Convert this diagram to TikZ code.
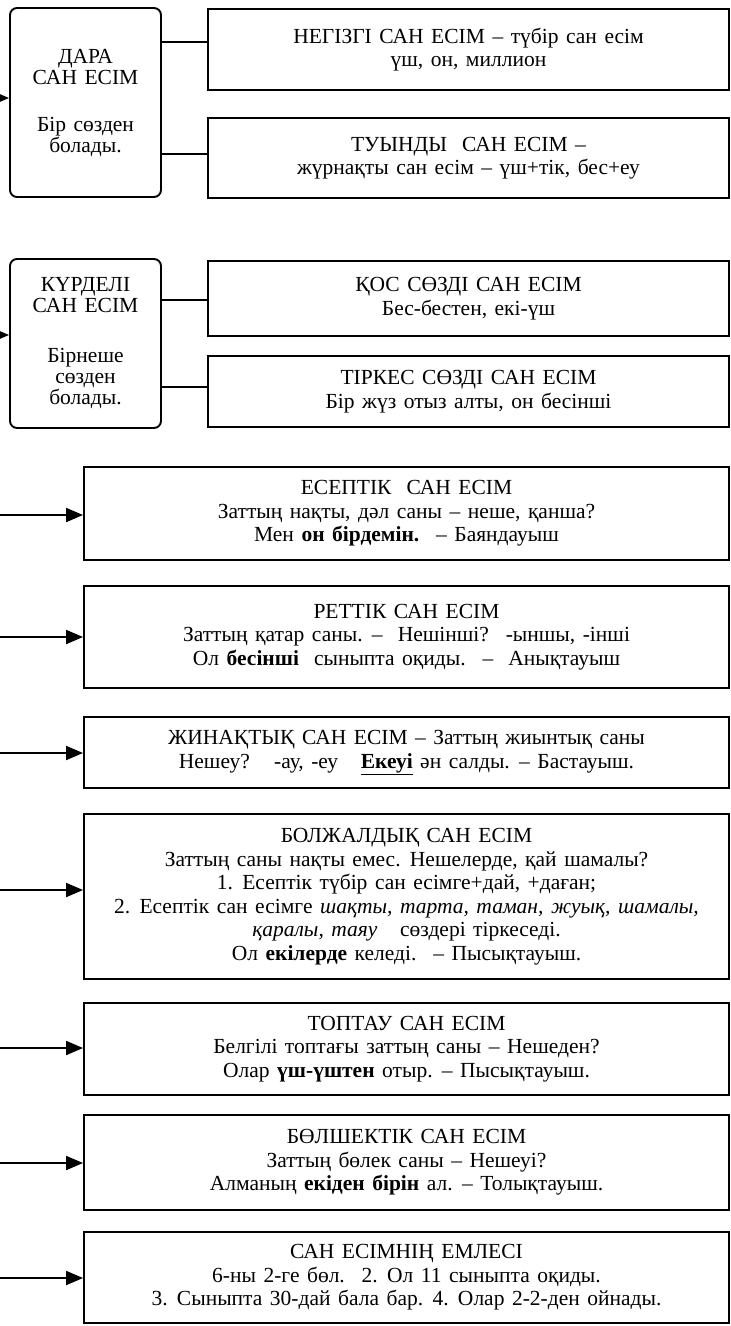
\documentclass[tikz,border=0pt]{standalone}
\usepackage{fontspec}
\setmainfont[WordSpace=1.4]{Liberation Serif}
\usetikzlibrary{arrows.meta}
\begin{document}
\begin{tikzpicture}[x=1pt,y=-1pt,
  every node/.style={font=\fontsize{21.5}{23.5}\selectfont, align=center, inner sep=0pt},
  leftbox/.style={draw, line width=1.9pt, rounded corners=7pt, minimum width=151pt, font=\fontsize{21.5}{21}\selectfont},
  subbox/.style={draw, line width=1.9pt, minimum width=521pt},
  mainbox/.style={draw, line width=1.9pt, minimum width=645pt},
  link/.style={line width=1.9pt},
  arr/.style={line width=1.9pt, -{Triangle[length=17pt,width=14pt]}}
]
\useasboundingbox (0,0) rectangle (731,1326);
\clip (0,0) rectangle (731,1326);

% --- DARA SAN ESIM ---
\node[leftbox, minimum height=189pt] (dara) at (85.5,102.5)
  {ДАРА\\САН ЕСІМ\\[26pt]Бір сөзден\\болады.};
\node[subbox, minimum height=81pt] (neg) at (468.5,49.5)
  {НЕГІЗГІ САН ЕСІМ – түбір сан есім\\үш, он, миллион};
\node[subbox, minimum height=80pt] (tuy) at (468.5,158)
  {ТУЫНДЫ \ САН ЕСІМ –\\жүрнақты сан есім – үш+тік, бес+еу};
\draw[link] (dara.east |- 0,42) -- (neg.west |- 0,42);
\draw[link] (dara.east |- 0,154) -- (tuy.west |- 0,154);
\coordinate (inD) at (-40,98);
\draw[arr] (inD) -- (inD -| dara.west);

% --- KURDELI SAN ESIM ---
\node[leftbox, minimum height=169pt] (kur) at (85.5,343.5)
  {КҮРДЕЛІ\\САН ЕСІМ\\[29pt]Бірнеше\\сөзден\\болады.};
\node[subbox, minimum height=75pt] (kos) at (468.5,298.5)
  {ҚОС СӨЗДІ САН ЕСІМ\\Бес-бестен, екі-үш};
\node[subbox, minimum height=71pt] (tir) at (468.5,391.5)
  {ТІРКЕС СӨЗДІ САН ЕСІМ\\Бір жүз отыз алты, он бесінші};
\draw[link] (kur.east |- 0,300) -- (kos.west |- 0,300);
\draw[link] (kur.east |- 0,387) -- (tir.west |- 0,387);
\coordinate (inK) at (-40,335);
\draw[arr] (inK) -- (inK -| kur.west);

% --- main boxes ---
\node[mainbox, minimum height=93pt] (esep) at (406.5,513.5)
  {ЕСЕПТІК \ САН ЕСІМ\\Заттың нақты, дәл саны – неше, қанша?\\Мен \textbf{он бірдемін.} \ – Баяндауыш};
\node[mainbox, minimum height=102pt] (ret) at (406.5,637)
  {РЕТТІК САН ЕСІМ\\Заттың қатар саны. – \ Нешінші? \ -ыншы, -інші\\Ол \textbf{бесінші} \ сыныпта оқиды. \ – \ Анықтауыш};
\node[mainbox, minimum height=71pt] (zhin) at (406.5,752.5)
  {ЖИНАҚТЫҚ САН ЕСІМ – Заттың жиынтық саны\\Нешеу? \ \ -ау, -еу \ \ \underline{\textbf{Екеуі}} ән салды. – Бастауыш.};
\node[mainbox, minimum height=165pt] (bolzh) at (406.5,896.5)
  {БОЛЖАЛДЫҚ САН ЕСІМ\\Заттың саны нақты емес. Нешелерде, қай шамалы?\\1. Есептік түбір сан есімге+дай, +даған;\\2. Есептік сан есімге \textit{шақты, тарта, таман, жуық, шамалы,}\\\textit{қаралы, таяу} \ \ сөздері тіркеседі.\\Ол \textbf{екілерде} келеді. \ – Пысықтауыш.};
\node[mainbox, minimum height=92pt] (topt) at (406.5,1049)
  {ТОПТАУ САН ЕСІМ\\Белгілі топтағы заттың саны – Нешеден?\\Олар \textbf{үш-үштен} отыр. – Пысықтауыш.};
\node[mainbox, minimum height=95pt] (bolsh) at (406.5,1162.5)
  {БӨЛШЕКТІК САН ЕСІМ\\Заттың бөлек саны – Нешеуі?\\Алманың \textbf{екіден бірін} ал. – Толықтауыш.};
\node[mainbox, minimum height=91pt] (eml) at (406.5,1277.5)
  {САН ЕСІМНІҢ ЕМЛЕСІ\\6-ны 2-ге бөл. \ 2. Ол 11 сыныпта оқиды.\\3. Сыныпта 30-дай бала бар. 4. Олар 2-2-ден ойнады.};

\foreach \n/\y in {esep/515, ret/637, zhin/753, bolzh/890, topt/1048, bolsh/1163, eml/1278}{
  \coordinate (s\n) at (0,\y);
  \draw[arr] (s\n) -- (s\n -| \n.west);
}
\end{tikzpicture}
\end{document}
